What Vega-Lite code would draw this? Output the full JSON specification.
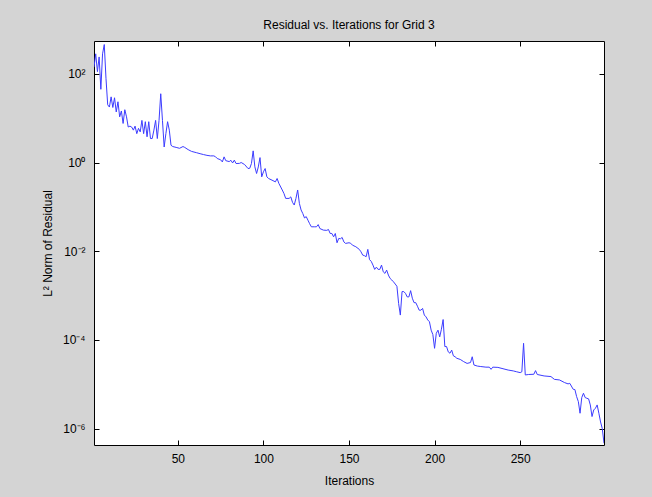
{
  "$schema": "https://vega.github.io/schema/vega-lite/v6.json",
  "width": 510,
  "height": 404,
  "autosize": {"type": "none"},
  "padding": {"left": 94, "top": 41, "right": 48, "bottom": 52},
  "background": "#d4d4d4",
  "title": {"text": "Residual vs. Iterations for Grid 3", "font": "Liberation Sans", "fontSize": 12, "fontWeight": "normal", "color": "black", "offset": 9},
  "data": {"values": [
    {"i":1,"r":141},{"i":2,"r":282},{"i":3,"r":112},{"i":4,"r":240},{"i":5,"r":44.7},{"i":6,"r":282},{"i":7,"r":457},{"i":8,"r":79.4},{"i":9,"r":20.0},{"i":10,"r":17.8},
    {"i":11,"r":30.2},{"i":12,"r":17.4},{"i":13,"r":28.8},{"i":14,"r":13.8},{"i":15,"r":23.4},{"i":16,"r":10.7},{"i":17,"r":14.5},{"i":18,"r":7.59},{"i":19,"r":15.5},{"i":20,"r":10.7},
    {"i":21,"r":6.31},{"i":22,"r":6.61},{"i":23,"r":6.31},{"i":24,"r":5.37},{"i":25,"r":6.61},{"i":26,"r":4.47},{"i":27,"r":5.89},{"i":28,"r":4.90},{"i":29,"r":8.91},{"i":30,"r":4.47},
    {"i":31,"r":8.32},{"i":32,"r":3.80},{"i":33,"r":8.32},{"i":34,"r":3.47},{"i":35,"r":3.47},{"i":36,"r":5.37},{"i":37,"r":8.91},{"i":38,"r":3.47},{"i":39,"r":8.91},{"i":40,"r":35.5},
    {"i":41,"r":8.91},{"i":42,"r":2.24},{"i":43,"r":4.47},{"i":44,"r":8.32},{"i":45,"r":5.37},{"i":46,"r":2.45},{"i":47,"r":2.29},{"i":49,"r":2.19},{"i":51,"r":2.09},{"i":53,"r":2.29},
    {"i":54,"r":2.19},{"i":56,"r":1.95},{"i":58,"r":1.78},{"i":61,"r":1.66},{"i":63,"r":1.58},{"i":65,"r":1.51},{"i":67,"r":1.45},{"i":69,"r":1.41},{"i":71,"r":1.41},{"i":72,"r":1.35},
    {"i":73,"r":1.23},{"i":75,"r":1.15},{"i":76,"r":1.03},{"i":77,"r":1.34},{"i":78,"r":1.10},{"i":80,"r":1.05},{"i":81,"r":1.12},{"i":82,"r":0.977},{"i":83,"r":1.13},{"i":84,"r":0.948},
    {"i":86,"r":0.955},{"i":87,"r":1.0},{"i":89,"r":0.90},{"i":91,"r":0.731},{"i":92,"r":0.741},{"i":93,"r":0.948},{"i":94,"r":1.83},{"i":95,"r":0.798},{"i":96,"r":0.565},{"i":97,"r":0.794},
    {"i":98,"r":1.29},{"i":99,"r":0.475},{"i":100,"r":0.617},{"i":101,"r":0.731},{"i":102,"r":0.475},{"i":103,"r":0.436},{"i":105,"r":0.40},{"i":107,"r":0.366},{"i":108,"r":0.436},{"i":109,"r":0.339},
    {"i":111,"r":0.240},{"i":112,"r":0.20},{"i":113,"r":0.155},{"i":115,"r":0.155},{"i":116,"r":0.168},{"i":117,"r":0.126},{"i":118,"r":0.110},{"i":119,"r":0.155},{"i":120,"r":0.240},{"i":121,"r":0.120},
    {"i":122,"r":0.0851},{"i":123,"r":0.0708},{"i":124,"r":0.0562},{"i":125,"r":0.0603},{"i":126,"r":0.0501},{"i":127,"r":0.0417},{"i":128,"r":0.0355},{"i":130,"r":0.0355},{"i":131,"r":0.0355},{"i":132,"r":0.0398},
    {"i":133,"r":0.0324},{"i":135,"r":0.0299},{"i":137,"r":0.0295},{"i":138,"r":0.0309},{"i":139,"r":0.0251},{"i":140,"r":0.0251},{"i":141,"r":0.0211},{"i":142,"r":0.0251},{"i":143,"r":0.0155},{"i":144,"r":0.0194},
    {"i":145,"r":0.0191},{"i":146,"r":0.0204},{"i":147,"r":0.0162},{"i":148,"r":0.0150},{"i":150,"r":0.0155},{"i":151,"r":0.0151},{"i":152,"r":0.0137},{"i":154,"r":0.0126},{"i":156,"r":0.0110},{"i":157,"r":0.0097},
    {"i":158,"r":0.00817},{"i":159,"r":0.00794},{"i":160,"r":0.0075},{"i":161,"r":0.0110},{"i":162,"r":0.00646},{"i":163,"r":0.00589},{"i":164,"r":0.00486},{"i":165,"r":0.00389},{"i":166,"r":0.00437},{"i":167,"r":0.00389},
    {"i":168,"r":0.00389},{"i":169,"r":0.00486},{"i":170,"r":0.00344},{"i":171,"r":0.00316},{"i":172,"r":0.00375},{"i":173,"r":0.0029},{"i":174,"r":0.00244},{"i":175,"r":0.00224},{"i":176,"r":0.00204},{"i":177,"r":0.00182},
    {"i":178,"r":0.00162},{"i":179,"r":0.000661},{"i":180,"r":0.000363},{"i":181,"r":0.00123},{"i":182,"r":0.00123},{"i":183,"r":0.00112},{"i":184,"r":0.000933},{"i":185,"r":0.000933},{"i":186,"r":0.00129},{"i":187,"r":0.000871},
    {"i":188,"r":0.000692},{"i":189,"r":0.000692},{"i":190,"r":0.000575},{"i":191,"r":0.000468},{"i":192,"r":0.000468},{"i":193,"r":0.000513},{"i":194,"r":0.000363},{"i":195,"r":0.000331},{"i":196,"r":0.000282},{"i":197,"r":0.000257},
    {"i":198,"r":0.000166},{"i":199,"r":0.000132},{"i":200,"r":6.46e-5},{"i":201,"r":0.000141},{"i":202,"r":0.000166},{"i":203,"r":0.000117},{"i":204,"r":0.000174},{"i":205,"r":0.000288},{"i":206,"r":7.08e-5},{"i":207,"r":7.08e-5},
    {"i":208,"r":5.37e-5},{"i":209,"r":5.01e-5},{"i":210,"r":5.89e-5},{"i":211,"r":4.37e-5},{"i":212,"r":4.17e-5},{"i":213,"r":3.85e-5},{"i":215,"r":3.63e-5},{"i":217,"r":3.24e-5},{"i":219,"r":2.95e-5},{"i":221,"r":3.09e-5},
    {"i":222,"r":4.17e-5},{"i":223,"r":2.72e-5},{"i":225,"r":2.57e-5},{"i":227,"r":2.51e-5},{"i":230,"r":2.43e-5},{"i":232,"r":2.43e-5},{"i":233,"r":2.17e-5},{"i":234,"r":2.43e-5},{"i":237,"r":2.40e-5},{"i":240,"r":2.24e-5},
    {"i":243,"r":2.09e-5},{"i":246,"r":2.00e-5},{"i":248,"r":1.91e-5},{"i":250,"r":1.83e-5},{"i":251,"r":1.91e-5},{"i":252,"r":8.38e-5},{"i":253,"r":1.62e-5},{"i":255,"r":1.66e-5},{"i":258,"r":1.68e-5},{"i":259,"r":2.03e-5},
    {"i":260,"r":1.66e-5},{"i":264,"r":1.54e-5},{"i":268,"r":1.49e-5},{"i":270,"r":1.29e-5},{"i":273,"r":1.25e-5},{"i":276,"r":1.09e-5},{"i":278,"r":1.02e-5},{"i":279,"r":1.05e-5},{"i":281,"r":7.71e-6},{"i":282,"r":7.59e-6},
    {"i":283,"r":5.27e-6},{"i":284,"r":4.07e-6},{"i":285,"r":2.22e-6},{"i":286,"r":5.01e-6},{"i":287,"r":6.27e-6},{"i":288,"r":5.01e-6},{"i":289,"r":4.83e-6},{"i":290,"r":4.68e-6},{"i":291,"r":3.42e-6},{"i":292,"r":1.87e-6},
    {"i":293,"r":2.63e-6},{"i":294,"r":2.88e-6},{"i":295,"r":3.42e-6},{"i":296,"r":2.22e-6},{"i":297,"r":1.41e-6},{"i":298,"r":1.0e-6},{"i":299,"r":4.68e-7}
  ]},
  "layer": [
    {
      "mark": {"type": "line", "color": "#3c3cff", "strokeWidth": 1, "clip": true},
      "encoding": {
        "x": {"field": "i", "type": "quantitative", "scale": {"domain": [1, 299], "nice": false, "zero": false},
              "axis": {"orient": "bottom", "values": [50, 100, 150, 200, 250], "title": "Iterations", "labelPadding": 13, "titleY": 35, "titleBaseline": "middle"}},
        "y": {"field": "r", "type": "quantitative", "scale": {"type": "log", "domain": [4.27e-7, 549], "nice": false},
              "axis": {"orient": "left", "values": [100, 1, 0.01, 0.0001, 0.000001], "title": "L² Norm of Residual", "labelPadding": 14,
                       "labelExpr": "datum.value >= 50 ? '10²' : datum.value >= 0.5 ? '10⁰' : datum.value >= 0.005 ? '10⁻²' : datum.value >= 0.00005 ? '10⁻⁴' : '10⁻⁶'",
                       "titleX": -47, "titleY": 202, "titleBaseline": "middle", "titleAngle": -90}}
      }
    },
    {
      "mark": {"type": "line", "strokeOpacity": 0, "clip": true},
      "encoding": {
        "x": {"field": "i", "type": "quantitative", "axis": {"orient": "top", "values": [50, 100, 150, 200, 250], "labels": false, "title": null}},
        "y": {"field": "r", "type": "quantitative", "axis": {"orient": "right", "values": [100, 1, 0.01, 0.0001, 0.000001], "labels": false, "title": null}}
      }
    }
  ],
  "resolve": {"axis": {"x": "independent", "y": "independent"}},
  "config": {
    "view": {"fill": "white", "stroke": "black", "strokeWidth": 1},
    "axis": {"labelFont": "Liberation Sans", "titleFont": "Liberation Sans", "labelFontSize": 12, "titleFontSize": 12,
             "labelColor": "black", "titleColor": "black", "titleFontWeight": "normal", "tickColor": "black",
             "domain": false, "grid": false, "tickSize": -5, "tickWidth": 1}
  }
}
